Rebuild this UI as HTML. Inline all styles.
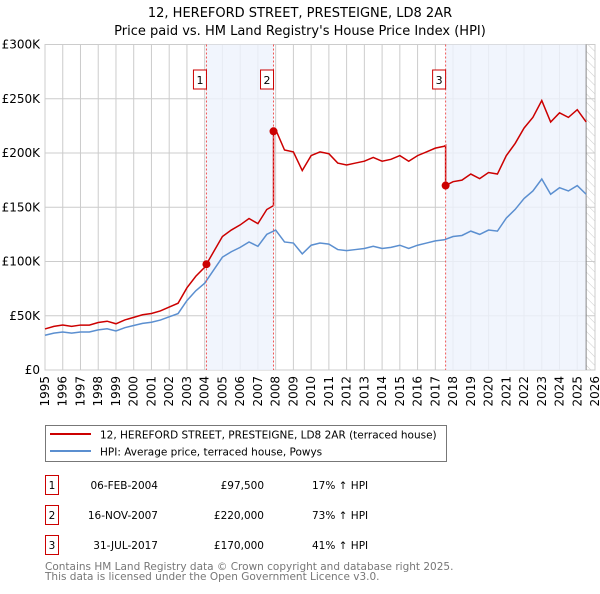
<!DOCTYPE html>
<html><head><meta charset="utf-8"><style>
body{margin:0;background:#fff;width:600px;height:590px;overflow:hidden;font-family:"DejaVu Sans","Liberation Sans",sans-serif;}
</style></head><body>
<svg id="chart" width="600" height="590" xmlns="http://www.w3.org/2000/svg" font-family="DejaVu Sans, Liberation Sans, sans-serif">
<defs><pattern id="hatch" width="6" height="6" patternUnits="userSpaceOnUse" patternTransform="rotate(-45)"><line x1="0" y1="0" x2="0" y2="6" stroke="#ccc" stroke-width="1"/></pattern></defs>
<text x="300" y="17" text-anchor="middle" font-size="13">12, HEREFORD STREET, PRESTEIGNE, LD8 2AR</text>
<text x="300" y="35" text-anchor="middle" font-size="13">Price paid vs. HM Land Registry's House Price Index (HPI)</text>
<g id="grid"></g><g id="shade"></g><g id="axes"></g><g id="series"></g><g id="marks"></g>
<rect x="45.5" y="425.5" width="401" height="36" fill="#fff" stroke="#777"/>
<line x1="50" y1="434" x2="91" y2="434" stroke="#cc0000" stroke-width="2"/>
<text x="100" y="438.5" font-size="10.5">12, HEREFORD STREET, PRESTEIGNE, LD8 2AR (terraced house)</text>
<line x1="50" y1="451" x2="91" y2="451" stroke="#5b8fd0" stroke-width="2"/>
<text x="100" y="455.5" font-size="10.5">HPI: Average price, terraced house, Powys</text>
<g id="table" font-size="10.5"></g>
<text x="45" y="570" font-size="10.5" fill="#777">Contains HM Land Registry data © Crown copyright and database right 2025.</text>
<text x="45" y="580" font-size="10.5" fill="#777">This data is licensed under the Open Government Licence v3.0.</text>
</svg>
<script>
const years=[1995,1995.5,1996,1996.5,1997,1997.5,1998,1998.5,1999,1999.5,2000,2000.5,2001,2001.5,2002,2002.5,2003,2003.5,2004,2004.5,2005,2005.5,2006,2006.5,2007,2007.5,2008,2008.5,2009,2009.5,2010,2010.5,2011,2011.5,2012,2012.5,2013,2013.5,2014,2014.5,2015,2015.5,2016,2016.5,2017,2017.5,2018,2018.5,2019,2019.5,2020,2020.5,2021,2021.5,2022,2022.5,2023,2023.5,2024,2024.5,2025,2025.5];
const hpi=[32,34,35,34,35,35,37,38,36,39,41,43,44,46,49,52,64,73,80,92,104,109,113,118,114,125,129,118,117,107,115,117,116,111,110,111,112,114,112,113,115,112,115,117,119,120,123,124,128,125,129,128,140,148,158,165,176,162,168,165,170,162];
const saleDates=[2004.1,2007.88,2017.58];
const salePrices=[97.5,220,170];
const saleLabels=["1","2","3"];
const saleDateText=["06-FEB-2004","16-NOV-2007","31-JUL-2017"];
const salePriceText=["£97,500","£220,000","£170,000"];
const saleHpiText=["17% ↑ HPI","73% ↑ HPI","41% ↑ HPI"];
const yTicks=[0,50,100,150,200,250,300];
const yTickLabels=["£0","£50K","£100K","£150K","£200K","£250K","£300K"];
const xTicks=[1995,1996,1997,1998,1999,2000,2001,2002,2003,2004,2005,2006,2007,2008,2009,2010,2011,2012,2013,2014,2015,2016,2017,2018,2019,2020,2021,2022,2023,2024,2025,2026];

const NS="http://www.w3.org/2000/svg";
const X0=45,X1=595,Y0=370,Y1=44.5;
const x=t=>X0+(t-1995)/(2026-1995)*(X1-X0);
const y=v=>Y0-v/300*(Y0-Y1);
function mk(tag,attrs,parent){const e=document.createElementNS(NS,tag);for(const k in attrs)e.setAttribute(k,attrs[k]);document.getElementById(parent).appendChild(e);return e;}
function hpiAt(t){for(let i=0;i<years.length-1;i++){if(t<=years[i+1]){const f=(t-years[i])/(years[i+1]-years[i]);return hpi[i]+f*(hpi[i+1]-hpi[i]);}}return hpi[hpi.length-1];}
const END=2025.5;
let s=mk('rect',{x:x(saleDates[0]),y:Y1,width:x(saleDates[1])-x(saleDates[0]),height:Y0-Y1,fill:'#eef3fc',opacity:0.8},'shade');


s=mk('rect',{x:x(saleDates[2]),y:Y1,width:x(END)-x(saleDates[2]),height:Y0-Y1,fill:'#eef3fc',opacity:0.8},'shade');


s=mk('rect',{x:x(END),y:Y1,width:X1-x(END),height:Y0-Y1,fill:'url(#hatch)'},'shade');


s=mk('line',{x1:x(END),y1:Y1,x2:x(END),y2:Y0,stroke:'#888'},'shade');


yTicks.forEach((v,i)=>{
 let l=mk('line',{x1:X0,x2:X1,y1:y(v),y2:y(v),stroke:'#ccc'},'grid');
 
 
 let t=mk('text',{x:40,y:y(v)+4,'text-anchor':'end','font-size':12},'axes');
 t.textContent=yTickLabels[i];
 
 
});
xTicks.forEach(yr=>{
 let l=mk('line',{x1:x(yr),x2:x(yr),y1:Y1,y2:Y0,stroke:'#ccc'},'grid');
 
 
 let t=mk('text',{x:0,y:0,'text-anchor':'end','font-size':12,transform:`translate(${x(yr)+4},${Y0+6}) rotate(-90)`},'axes');
 t.textContent=yr;
 
 
});
let fr=mk('rect',{x:X0,y:Y1,width:X1-X0,height:Y0-Y1,fill:'none',stroke:'#ccc'},'grid');


let p=mk('polyline',{points:years.map((t,i)=>x(t)+','+y(hpi[i])).join(' '),fill:'none',stroke:'#5b8fd0','stroke-width':1.5},'series');


const ratio=t=>{let r=salePrices[0]/hpiAt(saleDates[0]);for(let k=0;k<saleDates.length;k++)if(t>=saleDates[k])r=salePrices[k]/hpiAt(saleDates[k]);return r;};
let pts=[];
const ts=[...years,...saleDates].sort((a,b)=>a-b);
ts.forEach(t=>{
 const k=saleDates.indexOf(t);
 if(k>0){pts.push([t,hpiAt(t)*salePrices[k-1]/hpiAt(saleDates[k-1])]);}
 pts.push([t,hpiAt(t)*ratio(t)]);
});
p=mk('polyline',{points:pts.map(q=>x(q[0])+','+y(q[1])).join(' '),fill:'none',stroke:'#cc0000','stroke-width':1.5},'series');


saleDates.forEach((t,i)=>{
 let l=mk('line',{x1:x(t),x2:x(t),y1:Y1,y2:Y0,stroke:'#ee5555','stroke-dasharray':'2,2'},'marks');
 
 
 let c=mk('circle',{cx:x(t),cy:y(salePrices[i]),r:4,fill:'#cc0000'},'marks');
 
 
 let b=mk('rect',{x:x(t)-13,y:70,width:13,height:19,fill:'#fff',stroke:'#cc0000'},'marks');
 
 
 let tx=mk('text',{x:x(t)-6.5,y:84,'text-anchor':'middle','font-size':11},'marks');
 tx.textContent=saleLabels[i];
 
 
 const ry=475+i*30;
 let tb=mk('rect',{x:45.5,y:ry+0.5,width:13,height:19,fill:'#fff',stroke:'#cc0000'},'table');
 
 
 let a=mk('text',{x:52,y:ry+14,'text-anchor':'middle'},'table');a.textContent=saleLabels[i];
 
 
 a=mk('text',{x:158,y:ry+14,'text-anchor':'end'},'table');a.textContent=saleDateText[i];
 
 
 a=mk('text',{x:264,y:ry+14,'text-anchor':'end'},'table');a.textContent=salePriceText[i];
 
 
 a=mk('text',{x:312,y:ry+14},'table');a.textContent=saleHpiText[i];
 
 
});
</script>
</body></html>
